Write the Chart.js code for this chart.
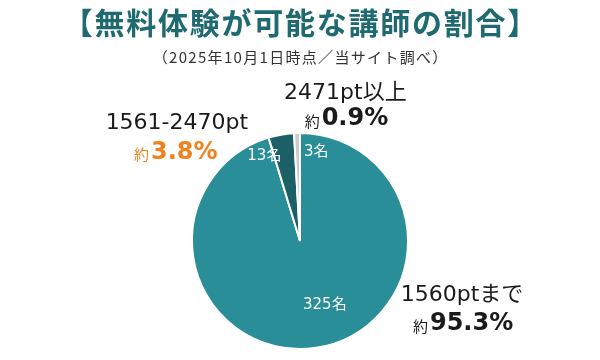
<!DOCTYPE html>
<html>
<head>
<meta charset="utf-8">
<script src="https://cdn.jsdelivr.net/npm/chart.js@4"></script>
<style>
  html, body { margin: 0; padding: 0; background: #fff; }
  #wrap { width: 600px; height: 360px; }
</style>
</head>
<body>
<div id="wrap"><canvas id="myChart" width="600" height="360"></canvas></div>
<script>
// data
var ranges = ['1560ptまで', '1561-2470pt', '2471pt以上'];
var counts = [325, 13, 3];
var shares = [95.3, 3.8, 0.9];
var titleText = '【無料体験が可能な講師の割合】';
var subtitleText = '（2025年10月1日時点／当サイト調べ）';

var FONT = '"DejaVu Sans", "Noto Sans CJK JP", sans-serif';
var JPFONT = '"Noto Sans CJK JP", "Noto Sans", sans-serif';

// draw text centred, stretched to a given advance width
function spacedText(ctx, text, x, y, width) {
    ctx.letterSpacing = '0px';
    var w = ctx.measureText(text).width;
    var ls = (width - w) / text.length;
    ctx.letterSpacing = ls + 'px';
    ctx.textAlign = 'left';
    ctx.fillText(text, x - (w + ls * (text.length - 1)) / 2, y);
    ctx.letterSpacing = '0px';
}

// title, subtitle and labels around / inside the pie (offsets in units of the pie radius)
var pieLabels = {
    id: 'pieLabels',
    afterDatasetsDraw: function(chart) {
        var ctx = chart.ctx;
        var arcs = chart.getDatasetMeta(0).data;
        var cx = arcs[0].x, cy = arcs[0].y, r = arcs[0].outerRadius;
        var inner = [[0.23, 0.59], [-0.33, -0.79], [0.15, -0.82]];
        var outer = [[1.50, 0.50, 1.51, 0.77], [-1.14, -1.09, -1.15, -0.82], [0.42, -1.37, 0.43, -1.13]];
        var pctColor = ['#1a1a1a', '#f0821e', '#1a1a1a'];

        ctx.save();
        ctx.textBaseline = 'middle';

        ctx.fillStyle = '#1f6a70';
        ctx.font = 'bold 30px ' + JPFONT;
        spacedText(ctx, titleText, chart.width / 2, 23, 476);

        ctx.fillStyle = '#333333';
        ctx.font = '15px ' + JPFONT;
        spacedText(ctx, subtitleText, chart.width / 2, 57, 296);

        ctx.textAlign = 'center';
        for (var i = 0; i < counts.length; i++) {
            // count inside
            ctx.fillStyle = '#ffffff';
            ctx.font = '15px ' + FONT;
            ctx.fillText(counts[i] + '名', cx + inner[i][0] * r, cy + inner[i][1] * r);

            // range name
            ctx.fillStyle = '#1a1a1a';
            ctx.font = '22px ' + FONT;
            ctx.fillText(ranges[i], cx + outer[i][0] * r, cy + outer[i][1] * r);

            // 約 + percent
            var pct = shares[i].toFixed(1) + '%';
            ctx.font = 'bold 24px ' + FONT;
            var wp = ctx.measureText(pct).width;
            ctx.font = '15px ' + JPFONT;
            var wy = ctx.measureText('約').width;
            var x0 = cx + outer[i][2] * r - (wp + wy + 2) / 2;
            var y0 = cy + outer[i][3] * r;
            ctx.textAlign = 'left';
            ctx.fillStyle = pctColor[i];
            ctx.fillText('約', x0, y0 + 2);
            ctx.font = 'bold 24px ' + FONT;
            ctx.fillText(pct, x0 + wy + 2, y0);
            ctx.textAlign = 'center';
        }
        ctx.restore();
    }
};

var ctx = document.getElementById('myChart').getContext('2d');
var myChart = new Chart(ctx, {
    type: 'pie',
    data: {
        labels: ranges,
        datasets: [{
            data: counts,
            backgroundColor: ['#2a8e99', '#1d5f67', '#cccccc'],
            borderColor: '#ffffff',
            borderWidth: 2
        }]
    },
    options: {
        responsive: false,
        animation: false,
        layout: {
            padding: { left: 100, right: 100, top: 132, bottom: 10 }
        },
        plugins: {
            legend: { display: false },
            tooltip: { enabled: false }
        }
    },
    plugins: [pieLabels]
});
</script>
</body>
</html>
